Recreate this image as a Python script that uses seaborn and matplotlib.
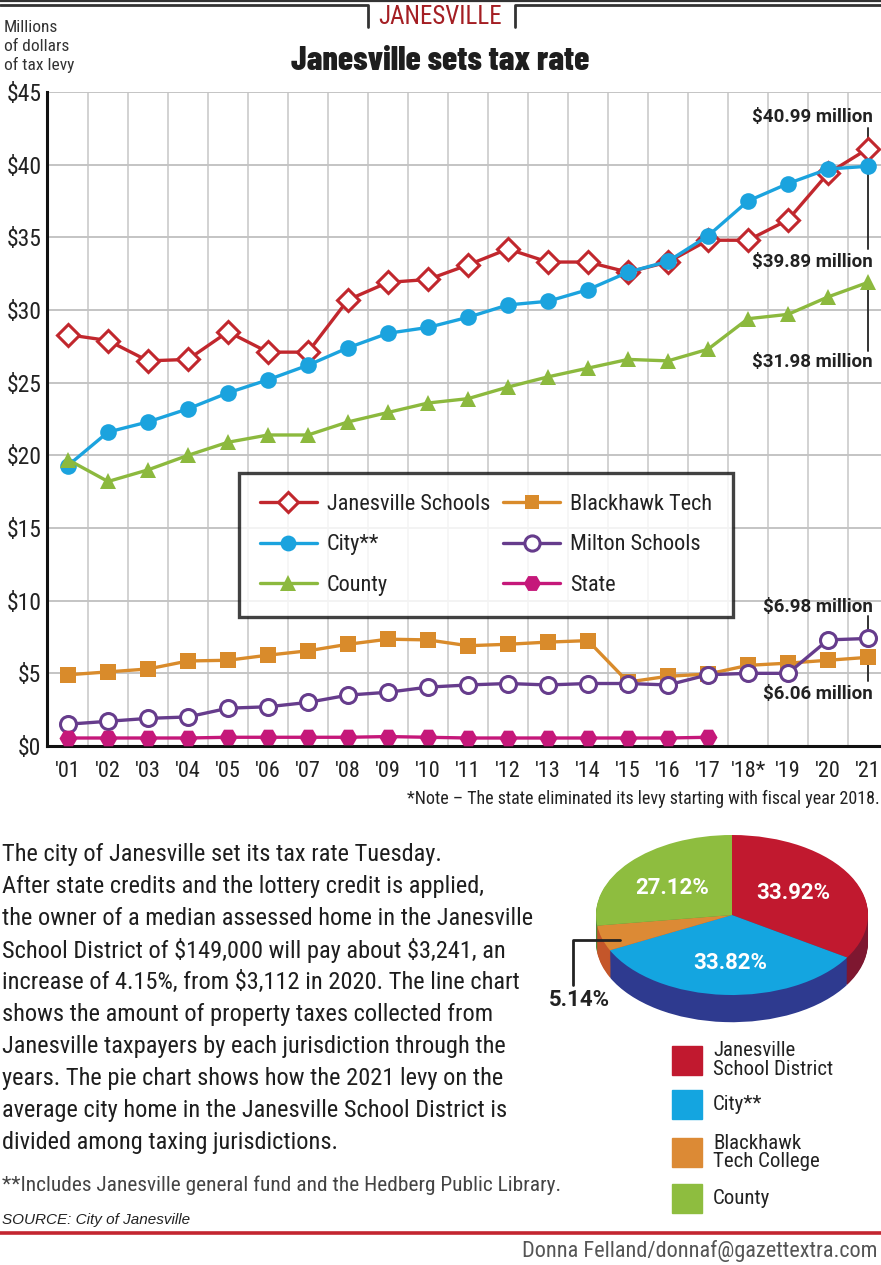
import numpy as np
import pandas as pd
import matplotlib
matplotlib.use("Agg")
import matplotlib.pyplot as plt
import seaborn as sns
from matplotlib.lines import Line2D
from matplotlib.patches import Rectangle

# ---- data ----
years = ["'01", "'02", "'03", "'04", "'05", "'06", "'07", "'08", "'09", "'10", "'11",
         "'12", "'13", "'14", "'15", "'16", "'17", "'18*", "'19", "'20", "'21"]
janesville_schools = [28.3, 27.9, 26.5, 26.6, 28.5, 27.1, 27.1, 30.7, 31.9, 32.1, 33.1,
                      34.2, 33.3, 33.3, 32.6, 33.3, 34.8, 34.8, 36.2, 39.4, 41.1]
city = [19.3, 21.6, 22.3, 23.2, 24.3, 25.2, 26.2, 27.4, 28.4, 28.8, 29.5,
        30.35, 30.6, 31.4, 32.6, 33.35, 35.1, 37.5, 38.7, 39.7, 39.89]
county = [19.7, 18.2, 19.0, 20.0, 20.9, 21.4, 21.4, 22.3, 22.95, 23.6, 23.9,
          24.7, 25.4, 26.0, 26.6, 26.5, 27.3, 29.4, 29.7, 30.9, 31.9]
blackhawk = [4.9, 5.1, 5.3, 5.85, 5.9, 6.25, 6.55, 7.0, 7.35, 7.3, 6.9,
             7.0, 7.15, 7.25, 4.4, 4.8, 4.95, 5.55, 5.7, 5.9, 6.1]
milton = [1.5, 1.7, 1.9, 2.0, 2.6, 2.7, 3.0, 3.5, 3.7, 4.05, 4.2,
          4.3, 4.2, 4.3, 4.3, 4.2, 4.9, 5.0, 5.0, 7.3, 7.4]
state = [0.55, 0.55, 0.55, 0.55, 0.6, 0.6, 0.6, 0.6, 0.65, 0.6, 0.55,
         0.55, 0.55, 0.55, 0.55, 0.55, 0.6, np.nan, np.nan, np.nan, np.nan]

end_labels = ["$40.99 million", "$39.89 million", "$31.98 million", "$6.98 million", "$6.06 million"]

pie_names = ["Janesville\nSchool District", "City**", "Blackhawk\nTech College", "County"]
pie_shares = [33.92, 33.82, 5.14, 27.12]
pie_labels = ["33.92%", "33.82%", "5.14%", "27.12%"]

# ---- style ----
sns.set_style("white")
COND = ["Roboto Condensed", "Barlow Semi Condensed", "DejaVu Sans"]
TITLE = ["Barlow Condensed", "Oswald", "Roboto Condensed", "DejaVu Sans"]
BOLD = ["Roboto", "Liberation Sans", "DejaVu Sans"]
plt.rcParams["font.family"] = COND
plt.rcParams["font.stretch"] = "condensed"
plt.rcParams["text.parse_math"] = False

W, H = 881, 1265
fig = plt.figure(figsize=(W / 100, H / 100), dpi=100)


def fx(x):
    return x / W


def fy(y):
    return 1 - y / H


def ftext(x, y, s, **kw):
    return fig.text(fx(x), fy(y), s, **kw)


red = "#c1272d"
blue = "#1ba3de"
green = "#8cb93e"
orange = "#d98b2b"
purple = "#663c8c"
magenta = "#c5187a"

# ---- line chart ----
ax = fig.add_axes([fx(47), fy(746), fx(881 - 47), (746 - 92) / H])
x = np.arange(1, len(years) + 1)

series = [
    ("Janesville Schools", janesville_schools, red, dict(marker="D", markersize=11, markerfacecolor="white", markeredgewidth=2.2)),
    ("City**", city, blue, dict(marker="o", markersize=12, markerfacecolor=blue, markeredgewidth=0)),
    ("County", county, green, dict(marker="^", markersize=12, markerfacecolor=green, markeredgewidth=0)),
    ("Blackhawk Tech", blackhawk, orange, dict(marker="s", markersize=11, markerfacecolor=orange, markeredgewidth=0)),
    ("Milton Schools", milton, purple, dict(marker="o", markersize=11.5, markerfacecolor="white", markeredgewidth=2.2)),
    ("State", state, magenta, dict(marker="H", markersize=13, markerfacecolor=magenta, markeredgewidth=0)),
]

for name, vals, col, mk in series:
    df = pd.DataFrame({"year": x, "levy": vals}).dropna()
    sns.lineplot(data=df, x="year", y="levy", color=col, linewidth=2.4,
                 markeredgecolor=col, label=name, ax=ax, clip_on=False, zorder=3, **mk)

ax.set_xlim(0.475, 21.325)
ax.set_ylim(0, 45)
ax.set_yticks(np.arange(0, 46, 5))
ax.set_yticklabels([f"${v}" for v in range(0, 46, 5)], fontsize=17, color="#222")
ax.set_xticks(x)
ax.set_xticklabels(years, fontsize=16, color="#222")
ax.set_xticks(np.arange(1.5, 21, 1), minor=True)
ax.tick_params(axis="both", which="both", length=0)
ax.tick_params(axis="x", pad=11)
ax.tick_params(axis="y", pad=4)
ax.grid(axis="y", which="major", color="#c4c4c4", linewidth=1.4)
ax.grid(axis="x", which="minor", color="#d2d2d2", linewidth=1.4)
ax.set_axisbelow(True)
ax.set_xlabel("")
ax.set_ylabel("")
for side in ["top", "right"]:
    ax.spines[side].set_visible(False)
ax.spines["left"].set_linewidth(2.2)
ax.spines["bottom"].set_linewidth(2.2)
ax.spines["left"].set_color("#111")
ax.spines["bottom"].set_color("#111")

leg = ax.legend(loc="upper left", bbox_to_anchor=(fx(239), fy(473)), bbox_transform=fig.transFigure,
                ncol=2, fontsize=16, frameon=True, fancybox=False, handlelength=2.55,
                handletextpad=0.45, columnspacing=0.6, labelspacing=0.87, borderpad=0.95,
                borderaxespad=0, markerscale=0.95)
leg.get_frame().set_edgecolor("#111")
leg.get_frame().set_linewidth(2.4)
for t in leg.get_texts():
    t.set_color("#222")

# end-value call-outs
lab_kw = dict(fontsize=13.5, fontweight="bold", family=BOLD, stretch="normal",
              color="#222", ha="right", va="center")
xr = 21.125
last = len(years) - 1
ax.text(xr, 43.25, end_labels[0], **lab_kw)
ax.plot([21, 21], [42.55, janesville_schools[last] + 0.6], color="#333", lw=1.4, zorder=2)
ax.text(xr, 33.3, end_labels[1], **lab_kw)
ax.plot([21, 21], [city[last], 34.2], color="#333", lw=1.4, zorder=2)
ax.text(xr, 26.45, end_labels[2], **lab_kw)
ax.plot([21, 21], [county[last], 27.2], color="#333", lw=1.4, zorder=2)
ax.text(xr, 9.55, end_labels[3], **lab_kw)
ax.plot([21, 21], [8.95, milton[last]], color="#333", lw=1.4, zorder=2)
ax.text(xr, 3.6, end_labels[4], **lab_kw)
ax.plot([21, 21], [blackhawk[last], 4.45], color="#333", lw=1.4, zorder=2)

# ---- header ----
hdr = "#333"
fig.add_artist(Line2D([0, 1], [fy(1.2), fy(1.2)], color=hdr, lw=1.6))
fig.add_artist(Line2D([0, fx(368), fx(368)], [fy(5), fy(5), fy(27)], color=hdr, lw=2))
fig.add_artist(Line2D([1, fx(515), fx(515)], [fy(5), fy(5), fy(27)], color=hdr, lw=2))
ftext(440, 17, "JANESVILLE", fontsize=18, color="#a41e23", ha="center", va="center")
ftext(440, 61, "Janesville sets tax rate", fontsize=24.5, fontweight="heavy", family=TITLE,
      color="#1e1e1e", ha="center", va="center")
for i, s in enumerate(["Millions", "of dollars", "of tax levy"]):
    ftext(4, 28 + 18.5 * i, s, fontsize=12.5, color="#333", ha="left", va="center")

ftext(880, 799, "*Note \u2013 The state eliminated its levy starting with fiscal year 2018.",
      fontsize=13, color="#222", ha="right", va="center")

# ---- body text ----
body = [
    "The city of Janesville set its tax rate Tuesday.",
    "After state credits and the lottery credit is applied,",
    "the owner of a median assessed home in the Janesville",
    "School District of $149,000 will pay about $3,241, an",
    "increase of 4.15%, from $3,112 in 2020. The line chart",
    "shows the amount of property taxes collected from",
    "Janesville taxpayers by each jurisdiction through the",
    "years. The pie chart shows how the 2021 levy on the",
    "average city home in the Janesville School District is",
    "divided among taxing jurisdictions.",
]
for i, s in enumerate(body):
    ftext(2, 855 + 31.9 * i, s, fontsize=17.6, color="#1e1e1e", ha="left", va="center")

ftext(2, 1185, "**Includes Janesville general fund and the Hedberg Public Library.",
      fontsize=15.4, color="#444", ha="left", va="center")
ftext(2, 1220, "SOURCE: City of Janesville", fontsize=11, style="italic",
      family=["Liberation Sans", "DejaVu Sans"], stretch="normal", color="#222", ha="left", va="center")
fig.add_artist(Line2D([0, 1], [fy(1233), fy(1233)], color="#c32530", lw=2.6))
ftext(878, 1251, "Donna Felland/donnaf@gazettextra.com", fontsize=16, color="#555",
      ha="right", va="center")

# ---- pie chart ----
pie_top = ["#c1192f", "#14a5e0", "#dc8a35", "#8ebd3f"]
pie_side = ["#7e1730", "#2e3a8f", "#c4562a", "#4f8a3b"]
pax = fig.add_axes([fx(592), fy(1030), 280 / W, 200 / H])
depth = 0.34
n = 28
for k in range(n, 0, -1):
    pax.pie(pie_shares, colors=pie_side, startangle=90, counterclock=False,
            center=(0, -depth * k / n), wedgeprops=dict(linewidth=0))
wedges, _ = pax.pie(pie_shares, colors=pie_top, startangle=90, counterclock=False,
                    wedgeprops=dict(linewidth=0))
pax.set_aspect("auto")
pax.set_xlim(-280 / 2 / 136, 280 / 2 / 136)
pax.set_ylim(-115 / 80, 85 / 80)
pax.axis("off")

pie_kw = dict(fontsize=16, fontweight="bold", family=BOLD, stretch="normal",
              color="white", ha="center", va="center")
pax.text(0.45, 0.275, pie_labels[0], **pie_kw)
pax.text(-0.015, -0.6, pie_labels[1], **pie_kw)
pax.text(-0.44, 0.34, pie_labels[3], **pie_kw)
ftext(579, 1000, pie_labels[2], fontsize=16, fontweight="bold", family=BOLD, stretch="normal",
      color="#222", ha="center", va="center")
fig.add_artist(Line2D([fx(573), fx(573), fx(620)], [fy(985), fy(940), fy(940)], color="#222", lw=2))

# pie legend
rows = [1060, 1104.5, 1152.5, 1198.5]
for name, col, yc in zip(pie_names, pie_top, rows):
    fig.add_artist(Rectangle((fx(672), fy(yc + 14.5)), 30 / W, 29 / H, color=col,
                             transform=fig.transFigure))
    ftext(713, yc, name, fontsize=15, color="#222", ha="left", va="center", linespacing=0.95)

fig.savefig("out.png", dpi=100)
